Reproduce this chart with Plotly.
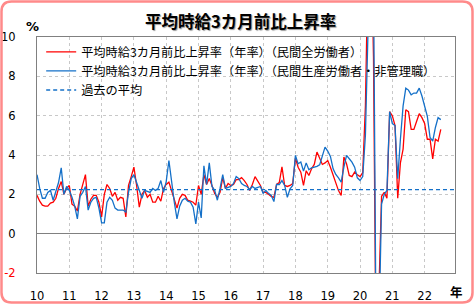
import plotly.graph_objects as go

# ---- data (monthly, 2010-01 .. 2022-07) ----
start_year = 2010
red_all_workers = [
    1.95, 1.65, 1.45, 1.4, 1.4, 1.55, 1.6, 1.8, 2.3, 2.65, 2.0, 2.3,      # 2010
    2.45, 1.5, 1.4, 1.15, 2.0, 2.45, 3.0, 1.4, 1.75, 1.95, 1.95, 1.6,     # 2011
    0.85, 2.0, 2.5, 2.3, 1.9, 2.1, 1.7, 1.85, 1.8, 0.85, 2.45, 2.9,       # 2012
    3.38, 2.45, 1.35, 2.0, 2.2, 1.85, 2.0, 1.6, 1.6, 1.9, 1.65, 2.3,      # 2013
    2.5, 2.62, 2.2, 1.7, 1.3, 1.8, 2.0, 1.95, 1.7, 1.65, 1.6, 1.45,       # 2014
    2.45, 2.0, 3.0, 2.5, 2.8, 2.45, 2.05, 1.85, 2.1, 2.85, 2.3, 2.55,     # 2015
    2.45, 2.5, 2.75, 2.75, 2.85, 2.7, 2.5, 2.2, 2.5, 2.9, 2.65, 2.45,     # 2016
    2.1, 2.1, 2.0, 1.9, 1.85, 2.5, 2.6, 3.4, 2.45, 2.4, 2.45, 2.55,       # 2017
    3.85, 3.38, 3.13, 2.45, 3.2, 2.96, 3.3, 3.52, 4.15, 3.81, 3.52, 3.6,  # 2018
    3.72, 3.38, 3.01, 2.53, 2.19, 1.94, 3.9, 3.55, 2.96, 2.9, 3.13, 3.0,  # 2019
    2.9, 3.1, 6.5, 14.0, 16.0, 9.0, -7.0, -3.0, 1.9, 2.1, 1.8, 6.2,       # 2020
    6.0, 5.5, 1.8, 3.6, 4.3, 6.3, 6.2, 5.3, 5.3, 5.7, 6.1, 5.9,           # 2021
    5.6, 4.8, 4.8, 3.8, 4.8, 4.7, 5.3,                                    # 2022
]
blue_production = [
    3.0, 2.3, 1.8, 1.8, 2.1, 2.2, 1.7, 2.1, 2.6, 3.35, 2.0, 2.4,          # 2010
    2.2, 1.85, 1.4, 0.75, 1.9, 2.1, 2.4, 1.2, 1.6, 1.8, 1.85, 1.3,        # 2011
    0.55, 0.55, 1.6, 1.85, 1.7, 1.3, 1.2, 1.2, 1.2, 1.1, 2.1, 2.8,        # 2012
    3.0, 2.6, 2.25, 1.8, 2.2, 2.15, 2.1, 2.3, 2.2, 2.3, 2.7, 2.1,         # 2013
    2.65, 3.72, 2.6, 1.6, 0.75, 1.4, 1.7, 1.8, 1.65, 1.6, 1.35, 0.5,      # 2014
    1.6, 0.8, 3.45, 2.5, 3.6, 2.4, 2.2, 1.7, 2.3, 3.0, 2.3, 2.35,         # 2015
    2.4, 2.55, 2.9, 2.8, 2.55, 2.45, 2.4, 2.25, 2.4, 2.3, 2.35, 2.4,      # 2016
    2.05, 2.2, 2.05, 1.95, 1.63, 2.5, 2.5, 2.7, 2.45, 1.85, 2.28, 2.45,   # 2017
    3.98, 3.55, 3.64, 3.18, 3.6, 3.25, 3.35, 3.38, 3.42, 3.5, 3.93, 4.4,  # 2018
    4.2, 3.93, 3.3, 3.01, 2.84, 2.62, 3.38, 3.98, 3.81, 3.64, 3.38, 2.84, # 2019
    2.7, 2.9, 5.0, 12.0, 16.0, 13.0, -6.0, -5.0, 1.5, 2.0, 2.2, 6.2,      # 2020
    5.6, 5.5, 2.8, 4.8, 6.5, 7.4, 7.3, 7.06, 7.15, 7.15, 7.4, 7.0,        # 2021
    6.4, 5.96, 4.9, 4.7, 5.4, 5.9, 5.8,                                   # 2022
]
past_average = 2.24
year_ticks = list(range(2010, 2023))
year_labels = [str(y % 100) for y in year_ticks]
y_ticks = [-2, 0, 2, 4, 6, 8, 10]
y_labels = ['<span style="color:#FF0000">-2</span>', "0", "2", "4", "6", "8", "10"]

name_red = "平均時給3カ月前比上昇率（年率）（民間全労働者）"
name_blue = "平均時給3カ月前比上昇率（年率）（民間生産労働者・非管理職）"
name_avg = "過去の平均"
title = "平均時給3カ月前比上昇率"

x_red = [start_year + i / 12 for i in range(len(red_all_workers))]
x_blue = [start_year + i / 12 for i in range(len(blue_production))]
x_range = [2010, 2022.94]

# ---- figure ----
W, H = 474, 304
ML, MR, MT, MB = 37, 19, 37, 31

fig = go.Figure()
fig.add_trace(go.Scatter(x=x_red, y=red_all_workers, mode="lines", name=name_red,
                         line=dict(color="#FF0000", width=1.3)))
fig.add_trace(go.Scatter(x=x_blue, y=blue_production, mode="lines", name=name_blue,
                         line=dict(color="#1470C8", width=1.3)))
fig.add_trace(go.Scatter(x=x_range, y=[past_average, past_average], mode="lines", name=name_avg,
                         line=dict(color="#1470C8", width=1.4, dash="4px,3px")))

def px(x):
    return (x - ML) / (W - ML - MR)

def py(y):
    return (H - MB - y) / (H - MT - MB)

x0, y0, x1, y1, r = 1.5, 1.5, 472.5, 302.5, 10
border = (f"M {px(x0+r)},{py(y0)} L {px(x1-r)},{py(y0)} Q {px(x1)},{py(y0)} {px(x1)},{py(y0+r)} "
          f"L {px(x1)},{py(y1-r)} Q {px(x1)},{py(y1)} {px(x1-r)},{py(y1)} "
          f"L {px(x0+r)},{py(y1)} Q {px(x0)},{py(y1)} {px(x0)},{py(y1-r)} "
          f"L {px(x0)},{py(y0+r)} Q {px(x0)},{py(y0)} {px(x0+r)},{py(y0)} Z")

grid = dict(showgrid=True, gridcolor="#C8C8C8", gridwidth=1, griddash="3px,3px")
tickfont = dict(family="DejaVu Sans", size=11.5, color="#000000")

fig.update_layout(
    width=W, height=H,
    margin=dict(l=ML, r=MR, t=MT, b=MB, pad=0, autoexpand=False),
    paper_bgcolor="white", plot_bgcolor="white",
    showlegend=True,
    legend=dict(x=0.01, y=0.998, xanchor="left", yanchor="top",
                bgcolor="rgba(0,0,0,0)", borderwidth=0,
                font=dict(family="Noto Sans CJK JP", size=12.2, color="#000000"),
                itemwidth=30, tracegroupgap=0),
    xaxis=dict(range=x_range, tickmode="array", tickvals=year_ticks, ticktext=year_labels,
               ticks="", ticklabelstandoff=12, automargin=False,
               showline=True, mirror=True, linecolor="#808080", linewidth=1,
               zeroline=False, tickfont=tickfont, **grid),
    yaxis=dict(range=[-2, 10], tickmode="array", tickvals=y_ticks, ticktext=y_labels,
               ticks="", ticklabelstandoff=18, automargin=False,
               showline=True, mirror=True, linecolor="#808080", linewidth=1,
               zeroline=True, zerolinecolor="#808080", zerolinewidth=1,
               tickfont=tickfont, **grid),
    shapes=[dict(type="path", xref="paper", yref="paper", path=border,
                 line=dict(color="#FF8A8A", width=2.5), layer="above")],
    annotations=[
        dict(text=f"<b>{title}</b>", xref="paper", yref="paper", x=px(240), y=py(21),
             xanchor="center", yanchor="middle", showarrow=False,
             font=dict(family="Noto Sans CJK JP", size=16.5, color="#000000",
                       shadow="1px 1px 1px #999999")),
        dict(text="<b>%</b>", xref="paper", yref="paper", x=px(32), y=py(27),
             xanchor="center", yanchor="middle", showarrow=False,
             font=dict(family="DejaVu Sans", size=13, color="#000000")),
        dict(text="<b>年</b>", xref="paper", yref="paper", x=px(457), y=py(291),
             xanchor="center", yanchor="middle", showarrow=False,
             font=dict(family="Noto Sans CJK JP", size=12.5, color="#000000")),
    ],
)

fig.write_html("out.html")
